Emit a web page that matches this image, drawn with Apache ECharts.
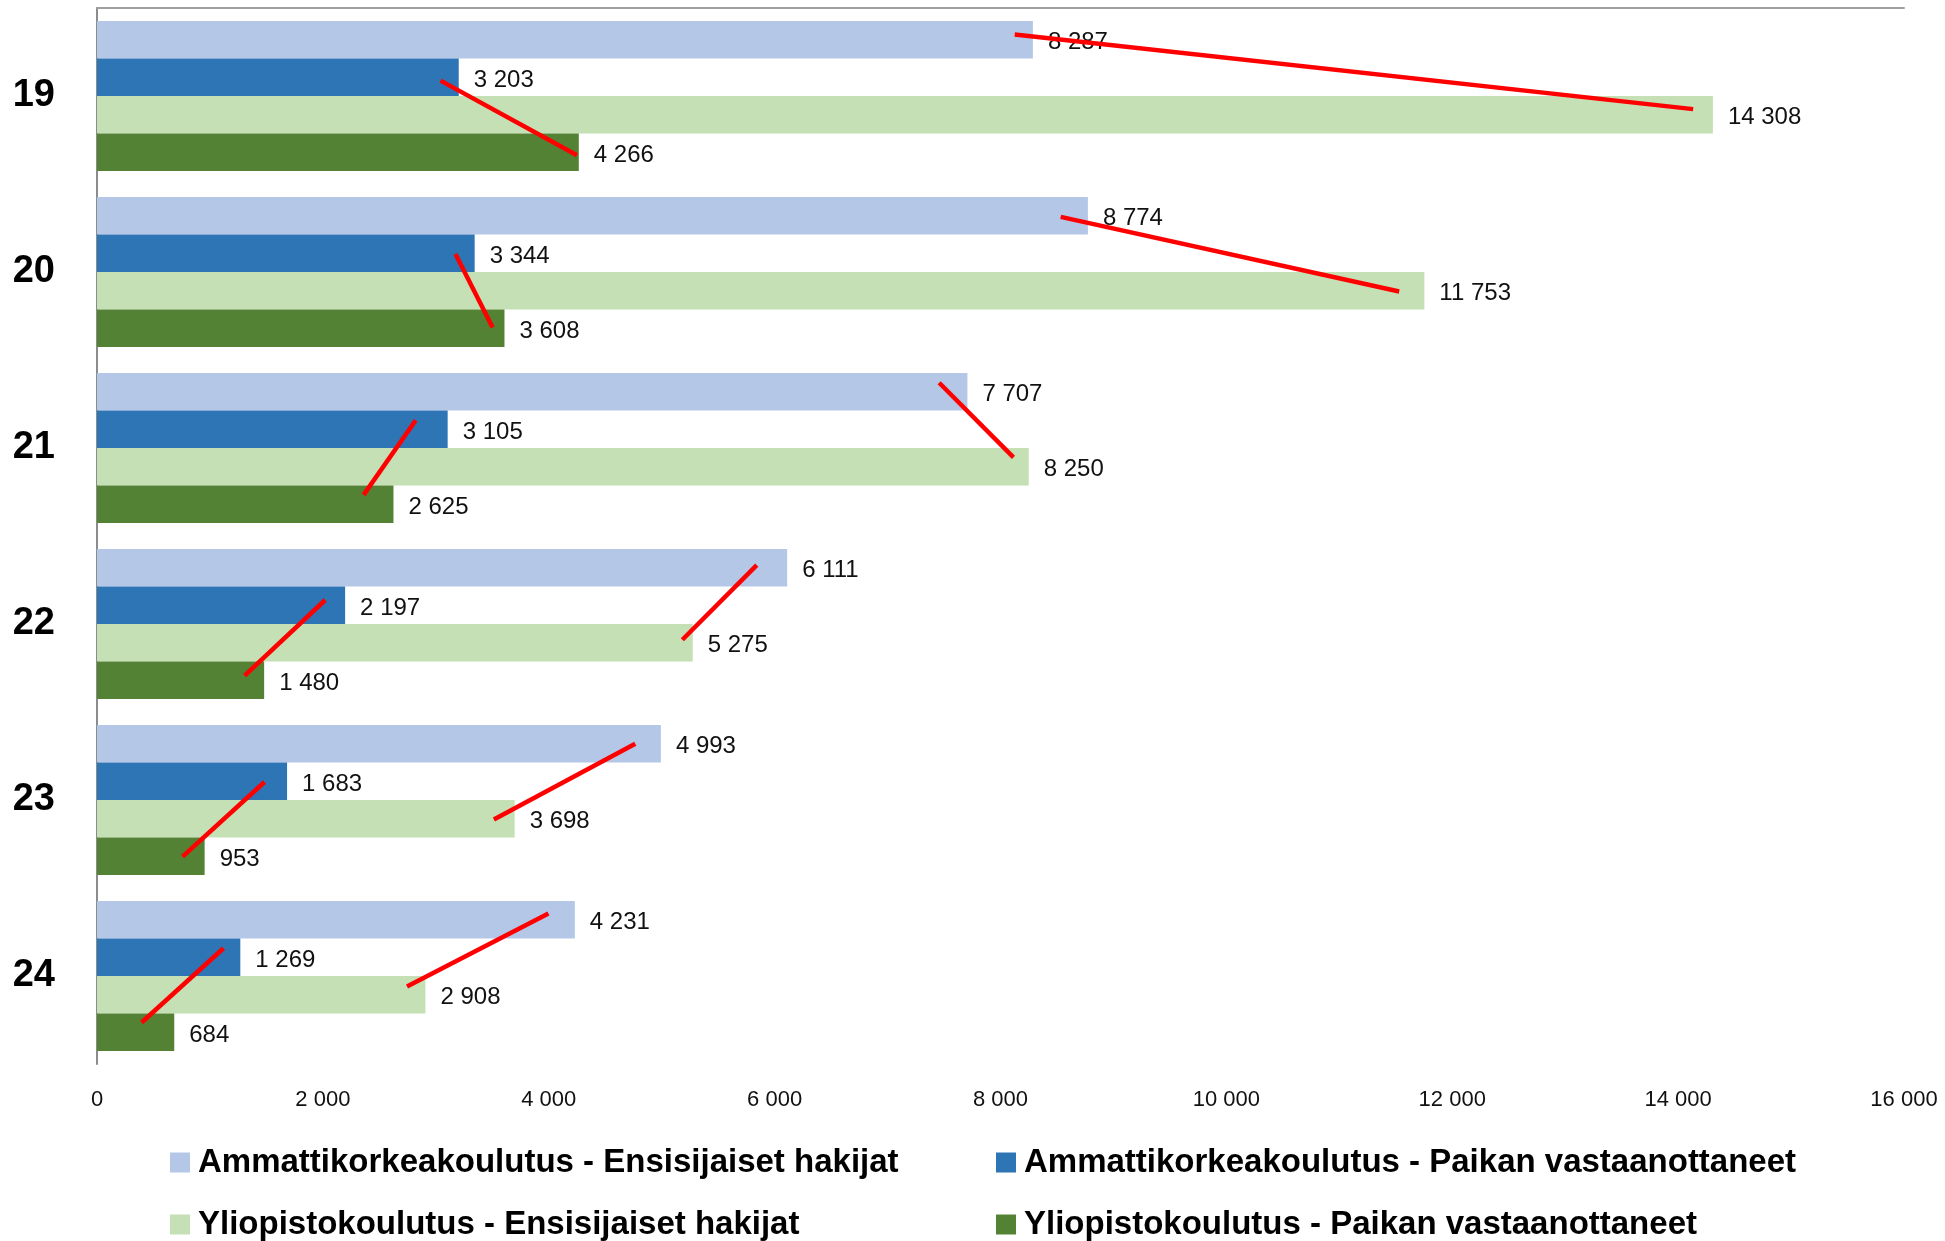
<!DOCTYPE html>
<html>
<head>
<meta charset="utf-8">
<script src="https://cdn.jsdelivr.net/npm/echarts@6/dist/echarts.min.js"></script>
<style>
html,body{margin:0;padding:0;background:#fff;}
#chart{width:1945px;height:1241px;}
</style>
</head>
<body>
<div id="chart"></div>
<script>
// ---- data ----
const categories = ['19', '20', '21', '22', '23', '24'];
const seriesNames = [
  'Ammattikorkeakoulutus - Ensisijaiset hakijat',
  'Ammattikorkeakoulutus - Paikan vastaanottaneet',
  'Yliopistokoulutus - Ensisijaiset hakijat',
  'Yliopistokoulutus - Paikan vastaanottaneet'
];
const amkHakijat = [8287, 8774, 7707, 6111, 4993, 4231];
const amkPaikka  = [3203, 3344, 3105, 2197, 1683, 1269];
const yoHakijat  = [14308, 11753, 8250, 5275, 3698, 2908];
const yoPaikka   = [4266, 3608, 2625, 1480, 953, 684];
const xMin = 0, xMax = 16000, xInterval = 2000;
// red annotation strokes: [category index, x value start, bar slot start, x value end, bar slot end]
const redLines = [
  [0, 8126, 0.36, 14133, 2.35],
  [0, 3042, 1.59, 4250, 3.58],
  [1, 8533, 0.53, 11530, 2.52],
  [1, 3174, 1.52, 3503, 3.48],
  [2, 7457, 0.26, 8115, 2.25],
  [2, 2822, 1.26, 2361, 3.25],
  [3, 5842, 0.43, 5183, 2.42],
  [3, 2021, 1.36, 1307, 3.38],
  [4, 4766, 0.50, 3514, 2.52],
  [4, 1483, 1.52, 758, 3.51],
  [5, 3997, 0.33, 2745, 2.28],
  [5, 1120, 1.26, 395, 3.24]
];

// ---- styling ----
const colors = ['#B4C7E7', '#2E75B6', '#C5E0B4', '#548235'];
const FONT = 'Liberation Sans';
const GAP = 0.148;
function fmt(v) { return String(v).replace(/\B(?=(\d{3})+(?!\d))/g, ' '); }

const values = [amkHakijat, amkPaikka, yoHakijat, yoPaikka];
const barSeries = values.map((arr, i) => ({
  name: seriesNames[i],
  type: 'bar',
  data: arr,
  barGap: '0%',
  barCategoryGap: (GAP * 100) + '%',
  itemStyle: { color: colors[i] },
  label: {
    show: true, position: 'right', distance: 15, offset: [0, 3],
    fontFamily: FONT, fontSize: 24, color: '#111',
    formatter: p => fmt(p.value)
  },
  emphasis: { disabled: true },
  z: 2
}));

const lineSeries = {
  type: 'custom',
  name: 'annotations',
  data: redLines,
  encode: { x: [1, 3], y: 0 },
  z: 10,
  silent: true,
  renderItem: function (params, api) {
    const cat = api.value(0);
    const band = api.size([0, 1])[1];
    const total = band * (1 - GAP);
    const p1 = api.coord([api.value(1), cat]);
    const p2 = api.coord([api.value(3), cat]);
    const y1 = p1[1] - total / 2 + api.value(2) * total / 4;
    const y2 = p2[1] - total / 2 + api.value(4) * total / 4;
    return {
      type: 'line',
      shape: { x1: p1[0], y1: y1, x2: p2[0], y2: y2 },
      style: { stroke: '#FF0000', lineWidth: 4.5, lineCap: 'butt' }
    };
  }
};

function legendAt(name, left, top) {
  return {
    data: [name], left: left, top: top, padding: 0,
    itemWidth: 20, itemHeight: 20, icon: 'rect', itemGap: 0,
    selectedMode: false,
    textStyle: { fontFamily: FONT, fontSize: 33, fontWeight: 'bold', color: '#000', padding: [0, 0, 0, 3] }
  };
}

const option = {
  animation: false,
  backgroundColor: '#fff',
  grid: { left: 97, right: 41, top: 8, bottom: 177, containLabel: false },
  legend: [
    legendAt(seriesNames[0], 170, 1146),
    legendAt(seriesNames[1], 996, 1146),
    legendAt(seriesNames[2], 170, 1208),
    legendAt(seriesNames[3], 996, 1208)
  ],
  xAxis: [
    {
      type: 'value', min: xMin, max: xMax, interval: xInterval, position: 'bottom',
      axisLine: { show: false }, axisTick: { show: false }, splitLine: { show: false },
      axisLabel: { fontFamily: FONT, fontSize: 22, color: '#111', margin: 25, formatter: v => fmt(v) }
    },
    {
      type: 'value', min: xMin, max: xMax, interval: xInterval, position: 'top',
      axisLine: { show: true, lineStyle: { color: '#A0A0A0', width: 2 } },
      axisTick: { show: false }, splitLine: { show: false }, axisLabel: { show: false }
    }
  ],
  yAxis: {
    type: 'category', data: categories, inverse: true,
    axisLine: { show: true, lineStyle: { color: '#8C8C8C', width: 2 } },
    axisTick: { show: false },
    axisLabel: { fontFamily: FONT, fontSize: 38, fontWeight: 'bold', color: '#000', margin: 42 }
  },
  series: barSeries.concat([lineSeries])
};

const chart = echarts.init(document.getElementById('chart'), null, { renderer: 'canvas' });
chart.setOption(option);
</script>
</body>
</html>
